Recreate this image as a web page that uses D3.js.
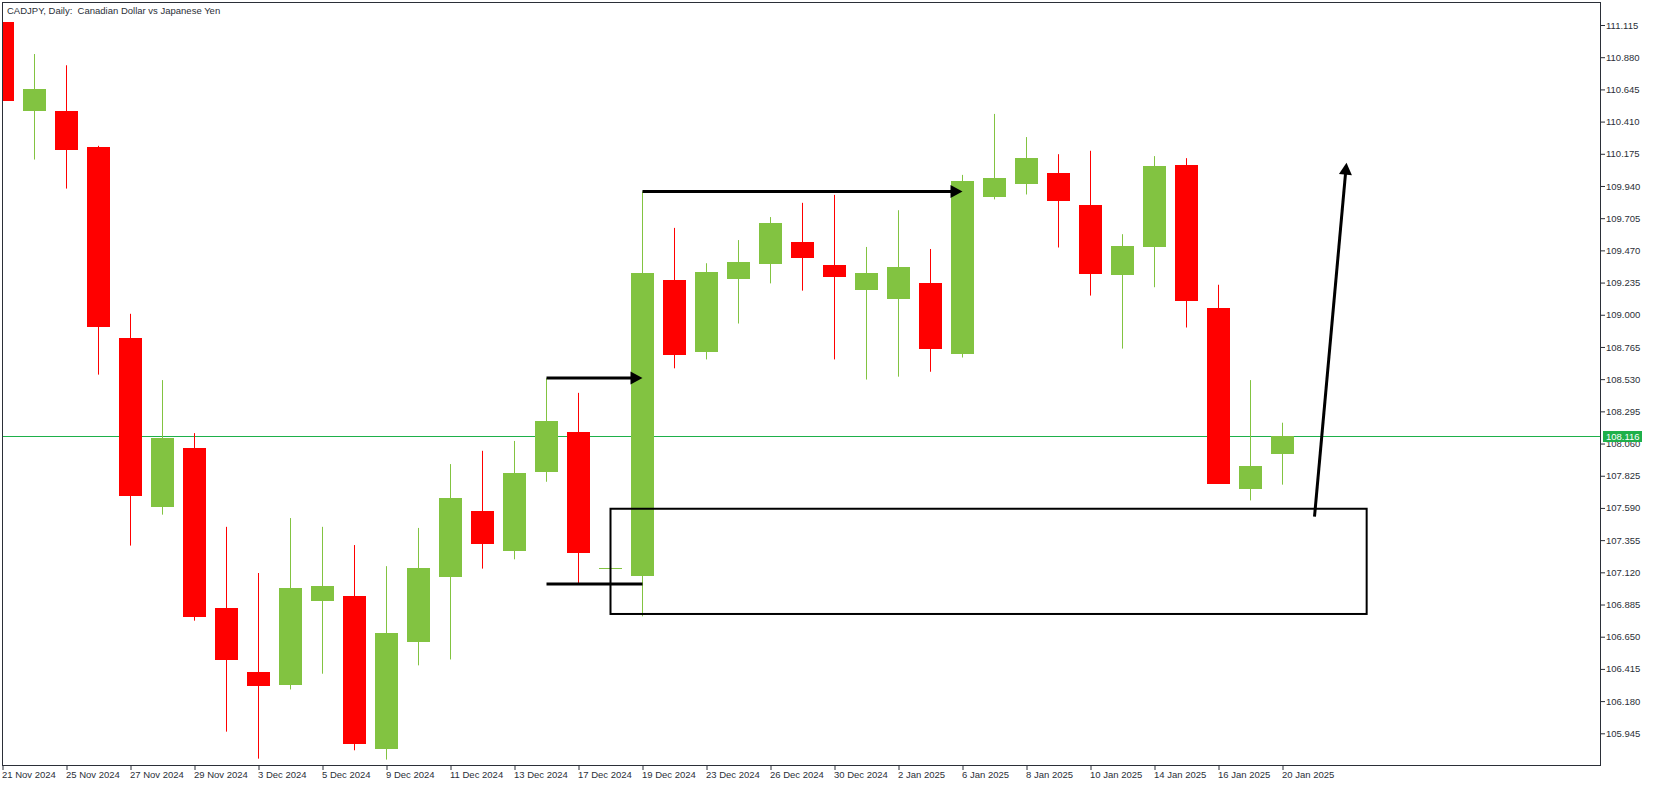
<!DOCTYPE html>
<html>
<head>
<meta charset="utf-8">
<script src="https://cdnjs.cloudflare.com/ajax/libs/d3/7.8.5/d3.min.js"></script>
<style>
body { margin:0; background:#fff; }
svg { display:block; }
.axis text { font-family: "Liberation Sans", Arial, sans-serif; font-size: 9.5px; fill: #2b2f38; }
.axis line { stroke: #2b2f38; }
.title { font-family: "Liberation Sans", Arial, sans-serif; font-size: 9.5px; fill: #2b2f38; white-space: pre; }
</style>
</head>
<body>
<div id="chart"></div>
<script>
var dates = ["21 Nov 2024","22 Nov 2024","25 Nov 2024","26 Nov 2024","27 Nov 2024","28 Nov 2024","29 Nov 2024",
    "2 Dec 2024","3 Dec 2024","4 Dec 2024","5 Dec 2024","6 Dec 2024","9 Dec 2024","10 Dec 2024","11 Dec 2024",
    "12 Dec 2024","13 Dec 2024","16 Dec 2024","17 Dec 2024","18 Dec 2024","19 Dec 2024","20 Dec 2024",
    "23 Dec 2024","24 Dec 2024","26 Dec 2024","27 Dec 2024","30 Dec 2024","31 Dec 2024","2 Jan 2025",
    "3 Jan 2025","6 Jan 2025","7 Jan 2025","8 Jan 2025","9 Jan 2025","10 Jan 2025","13 Jan 2025",
    "14 Jan 2025","15 Jan 2025","16 Jan 2025","17 Jan 2025","20 Jan 2025"];
var opens  = [111.136,110.491,110.487,110.226,108.832,107.595,108.029,106.860,106.394,106.301,106.914,
    106.946,105.828,106.610,107.090,107.566,107.280,107.857,108.143,107.150,107.097,109.254,108.731,
    109.258,109.373,109.530,109.362,109.183,109.111,109.233,108.710,109.864,109.950,110.036,109.803,
    109.287,109.498,110.093,109.050,107.731,107.986];
var highs  = [111.200,110.903,110.821,110.233,109.007,108.523,108.136,107.452,107.115,107.516,107.452,
    107.319,107.165,107.444,107.910,108.007,108.079,108.537,108.430,107.155,109.900,109.634,109.376,
    109.545,109.713,109.817,109.875,109.495,109.763,109.480,110.021,110.466,110.297,110.172,110.197,
    109.588,110.158,110.143,109.219,108.523,108.212];
var lows   = [110.520,110.133,109.921,108.563,107.315,107.541,106.767,105.957,105.760,106.265,106.380,
    105.821,105.753,106.441,106.484,107.147,107.215,107.781,107.039,107.148,106.799,108.609,108.674,
    108.936,109.229,109.176,108.674,108.527,108.548,108.584,108.688,109.842,109.878,109.491,109.140,
    108.753,109.201,108.907,107.767,107.645,107.760];
var closes = [110.563,110.649,110.201,108.914,107.681,108.100,106.799,106.477,106.294,107.007,107.021,
    105.864,106.678,107.151,107.663,107.323,107.846,108.226,107.258,107.153,109.305,108.703,109.312,
    109.384,109.670,109.412,109.272,109.305,109.348,108.753,109.975,110.000,110.143,109.835,109.301,
    109.502,110.086,109.097,107.767,107.896,108.116];

var yTicks = [111.115,110.880,110.645,110.410,110.175,109.940,109.705,109.470,109.235,109.000,108.765,
    108.530,108.295,108.060,107.825,107.590,107.355,107.120,106.885,106.650,106.415,106.180,105.945];
var lastPrice = 108.116;

// drawn objects, in bar index / price
var arrows = [
    {x1:17, y1:108.538, x2:20, y2:108.538},
    {x1:20, y1:109.900, x2:30, y2:109.900},
    {x1:41, y1:107.526, x2:42, y2:110.110}
];
var plainLines = [{x1:17, y1:107.034, x2:20, y2:107.034}];
var zones = [{x1:19, x2:42.63, top:107.584, bottom:106.816}];

var title = "CADJPY, Daily:  Canadian Dollar vs Japanese Yen";

CandleChart = function(_parentElement){
    this.parentElement = _parentElement;
    this.initVis();
};

CandleChart.prototype.initVis = function(){
    var vis = this;

    vis.width = 1653;
    vis.height = 786;
    vis.left = 2;
    vis.right = 1600;
    vis.top = 2;
    vis.bottom = 765;

    vis.svg = d3.select(vis.parentElement)
        .append("svg")
        .attr("width", vis.width)
        .attr("height", vis.height);

    vis.svg.append("rect")
        .attr("width", vis.width)
        .attr("height", vis.height)
        .attr("fill", "#fff");

    vis.svg.append("clipPath")
        .attr("id", "plot-clip")
        .append("rect")
        .attr("x", vis.left + 1)
        .attr("y", vis.top + 1)
        .attr("width", vis.right - vis.left - 1)
        .attr("height", vis.bottom - vis.top - 1);

    vis.x = d3.scaleLinear().domain([0, 50]).range([2.5, 1602.5]);
    vis.y = d3.scaleLinear().domain([105.945, 111.115]).range([733.3, 25]);

    vis.data = dates.map(function(d, i){
        return {date:d, i:i, open:opens[i], high:highs[i], low:lows[i], close:closes[i]};
    });

    vis.updateVis();
};

CandleChart.prototype.updateVis = function(){
    var vis = this;
    var up = "#82c341", down = "#ff0000", ink = "#2b2f38";

    // price axis
    var yAxisCall = d3.axisRight(vis.y)
        .tickValues(yTicks)
        .tickFormat(d3.format(".3f"))
        .tickSize(5)
        .tickSizeOuter(0)
        .tickPadding(1);
    var yAxis = vis.svg.append("g")
        .attr("class", "y axis")
        .attr("transform", "translate(" + vis.right + ",0)")
        .call(yAxisCall);
    yAxis.select(".domain").remove();
    yAxis.selectAll("text").attr("font-family", null).attr("font-size", null);

    // date axis
    var xAxisCall = d3.axisBottom(vis.x)
        .tickValues(d3.range(0, dates.length, 2))
        .tickFormat(function(i){ return dates[i]; })
        .tickSize(5)
        .tickSizeOuter(0)
        .tickPadding(1);
    var xAxis = vis.svg.append("g")
        .attr("class", "x axis")
        .attr("transform", "translate(0," + vis.bottom + ")")
        .call(xAxisCall);
    xAxis.select(".domain").remove();
    xAxis.selectAll("text").attr("text-anchor", "start").attr("x", -1);

    // frame
    vis.svg.append("rect")
        .attr("x", vis.left + 0.5)
        .attr("y", vis.top + 0.5)
        .attr("width", vis.right - vis.left)
        .attr("height", vis.bottom - vis.top)
        .attr("fill", "none")
        .attr("stroke", ink);

    vis.svg.append("text")
        .attr("class", "title")
        .attr("x", 7)
        .attr("y", 13.5)
        .text(title);

    var plot = vis.svg.append("g").attr("clip-path", "url(#plot-clip)");

    // last price line
    var ly = Math.round(vis.y(lastPrice)) + 0.5;
    plot.append("line")
        .attr("x1", vis.left).attr("x2", vis.right)
        .attr("y1", ly).attr("y2", ly)
        .attr("stroke", "#1eb04a");

    var candles = plot.selectAll(".candle")
        .data(vis.data)
        .enter().append("g")
        .attr("class", "candle");

    candles.append("line")
        .attr("x1", function(d){ return vis.x(d.i); })
        .attr("x2", function(d){ return vis.x(d.i); })
        .attr("y1", function(d){ return vis.y(d.high); })
        .attr("y2", function(d){ return vis.y(d.low); })
        .attr("stroke", function(d){ return d.close >= d.open ? up : down; })
        .attr("stroke-width", 1);

    candles.append("rect")
        .attr("x", function(d){ return vis.x(d.i) - 11.5; })
        .attr("width", 23)
        .attr("y", function(d){ return Math.round(vis.y(Math.max(d.open, d.close))); })
        .attr("height", function(d){
            return Math.max(1, Math.round(Math.abs(vis.y(d.open) - vis.y(d.close))));
        })
        .attr("fill", function(d){ return d.close >= d.open ? up : down; });

    // rectangle zone
    plot.selectAll(".zone")
        .data(zones)
        .enter().append("rect")
        .attr("class", "zone")
        .attr("x", function(d){ return vis.x(d.x1); })
        .attr("y", function(d){ return vis.y(d.top); })
        .attr("width", function(d){ return vis.x(d.x2) - vis.x(d.x1); })
        .attr("height", function(d){ return vis.y(d.bottom) - vis.y(d.top); })
        .attr("fill", "none")
        .attr("stroke", "#000")
        .attr("stroke-width", 2);

    plot.selectAll(".plain")
        .data(plainLines)
        .enter().append("line")
        .attr("class", "plain")
        .attr("x1", function(d){ return vis.x(d.x1); })
        .attr("x2", function(d){ return vis.x(d.x2); })
        .attr("y1", function(d){ return vis.y(d.y1); })
        .attr("y2", function(d){ return vis.y(d.y2); })
        .attr("stroke", "#000")
        .attr("stroke-width", 3);

    // arrows: shaft stops short of the tip, head drawn as a triangle
    var headLen = 12, headHalf = 6.5;
    arrows.forEach(function(a){
        var x1 = vis.x(a.x1), y1 = vis.y(a.y1),
            x2 = vis.x(a.x2), y2 = vis.y(a.y2);
        var len = Math.sqrt((x2 - x1) * (x2 - x1) + (y2 - y1) * (y2 - y1)),
            ux = (x2 - x1) / len, uy = (y2 - y1) / len;
        plot.append("line")
            .attr("x1", x1).attr("y1", y1)
            .attr("x2", x2 - ux * (headLen - 2)).attr("y2", y2 - uy * (headLen - 2))
            .attr("stroke", "#000")
            .attr("stroke-width", 3);
        var bx = x2 - ux * headLen, by = y2 - uy * headLen;
        plot.append("path")
            .attr("d", "M" + x2 + "," + y2 +
                "L" + (bx - uy * headHalf) + "," + (by + ux * headHalf) +
                "L" + (bx + uy * headHalf) + "," + (by - ux * headHalf) + "Z")
            .attr("fill", "#000");
    });

    // last price tag
    var tag = vis.svg.append("g")
        .attr("transform", "translate(" + (vis.right + 3) + "," + (ly - 5.5) + ")");
    tag.append("rect")
        .attr("width", 39)
        .attr("height", 11)
        .attr("fill", "#1eb04a");
    tag.append("text")
        .attr("x", 3)
        .attr("y", 9)
        .attr("fill", "#fff")
        .attr("font-family", "Liberation Sans, Arial, sans-serif")
        .attr("font-size", "9.5px")
        .text(d3.format(".3f")(lastPrice));
};

var chart = new CandleChart("#chart");
</script>
</body>
</html>
